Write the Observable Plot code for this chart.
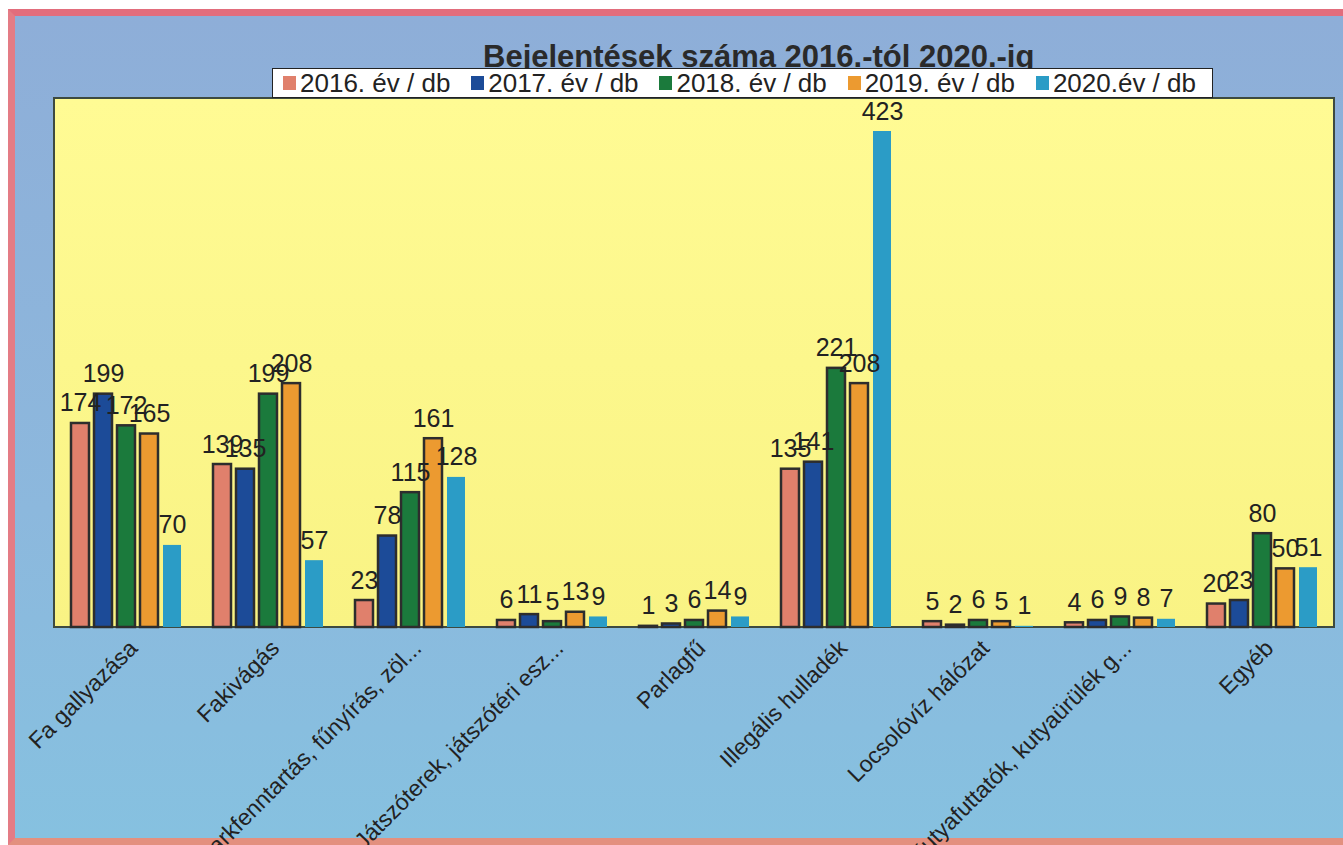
<!DOCTYPE html>
<html><head><meta charset="utf-8">
<script src="https://cdn.jsdelivr.net/npm/d3@7"></script>
<script src="https://cdn.jsdelivr.net/npm/@observablehq/plot@0.6"></script>
<style>
html,body{margin:0;padding:0;background:#fff;width:1343px;height:845px;overflow:hidden;font-family:"Liberation Sans",Arial,sans-serif;}
#frame{position:absolute;left:8px;top:9px;width:1350px;height:836px;box-sizing:border-box;border:7px solid #e26d7c;border-bottom-color:#e3907f;border-left-color:#e47c85;background:linear-gradient(#8eaed8,#8cb8dd 60%,#86c1e0);}
#panel{position:absolute;left:53px;top:97px;width:1282px;height:531px;box-sizing:border-box;border:2px solid #3d4a40;background:linear-gradient(#fffb94,#f9f384);}
#chart{position:absolute;left:0;top:0;}
#title{position:absolute;left:483px;top:41px;font-weight:bold;font-size:31px;line-height:31px;color:#2a2a2a;white-space:nowrap;}
#legend{position:absolute;left:272px;top:68px;width:941px;height:30px;box-sizing:border-box;border:1.5px solid #222;background:#fff;display:flex;justify-content:space-between;align-items:center;padding:0 16px 0 10px;font-size:26px;color:#222;white-space:nowrap;}
.item{display:flex;align-items:center;}
.sw{display:inline-block;width:13px;height:14px;margin-right:4px;}
</style>
</head>
<body>
<div id="frame"></div>
<div id="panel"></div>
<div id="chart"></div>
<div id="title">Bejelentések száma 2016.-tól 2020.-ig</div>
<div id="legend"></div>
<script>
const categories = ["Fa gallyazása","Fakivágás","Parkfenntartás, fűnyírás, zöl...","Játszóterek, játszótéri esz...","Parlagfű","Illegális hulladék","Locsolóvíz hálózat","Kutyafuttatók, kutyaürülék g...","Egyéb"];
const years = ["2016. év / db","2017. év / db","2018. év / db","2019. év / db","2020.év / db"];
const v2016 = [174,139,23,6,1,135,5,4,20];
const v2017 = [199,135,78,11,3,141,2,6,23];
const v2018 = [172,199,115,5,6,221,6,9,80];
const v2019 = [165,208,161,13,14,208,5,8,50];
const v2020 = [70,57,128,9,9,423,1,7,51];
const colors = ["#e0806c","#1c4b98","#1b7a3c","#ec9a30","#2b9cc6"];

const series = [v2016,v2017,v2018,v2019,v2020];
const data = [];
categories.forEach((c,i)=>series.forEach((s,j)=>data.push({category:c, year:years[j], value:s[i]})));
const outlined = data.filter(d=>d.year!==years[4]);
const plain = data.filter(d=>d.year===years[4]);

const chart = Plot.plot({
  width:1343, height:845,
  marginTop:97, marginBottom:218, marginLeft:53, marginRight:8,
  style:{background:"transparent", fontFamily:"'Liberation Sans', Arial, sans-serif", overflow:"visible"},
  fx:{domain:categories, paddingInner:0.196, paddingOuter:0.105, label:null},
  x:{domain:years, paddingInner:0.23, paddingOuter:0, axis:null},
  y:{domain:[0,452], axis:null},
  color:{domain:years, range:colors},
  marks:[
    Plot.barY(outlined, {fx:"category", x:"year", y:"value", fill:"year", stroke:"#2d2d2d", strokeWidth:2.5}),
    Plot.barY(plain, {fx:"category", x:"year", y:"value", fill:"year"}),
    Plot.text(data, {fx:"category", x:"year", y:"value", text:d=>String(d.value), lineAnchor:"bottom", dy:-12, fontSize:25, fill:"#222"}),
    Plot.axisFx({anchor:"bottom", tickSize:0, tickPadding:17, tickRotate:-45, fontSize:23, dx:7, fill:"#222", label:null})
  ]
});
document.getElementById("chart").appendChild(chart);

const leg = document.getElementById("legend");
years.forEach((y,i)=>{
  const it = document.createElement("span"); it.className="item";
  const sw = document.createElement("span"); sw.className="sw"; sw.style.background=colors[i];
  it.appendChild(sw); it.appendChild(document.createTextNode(y));
  leg.appendChild(it);
});
</script>
</body></html>
